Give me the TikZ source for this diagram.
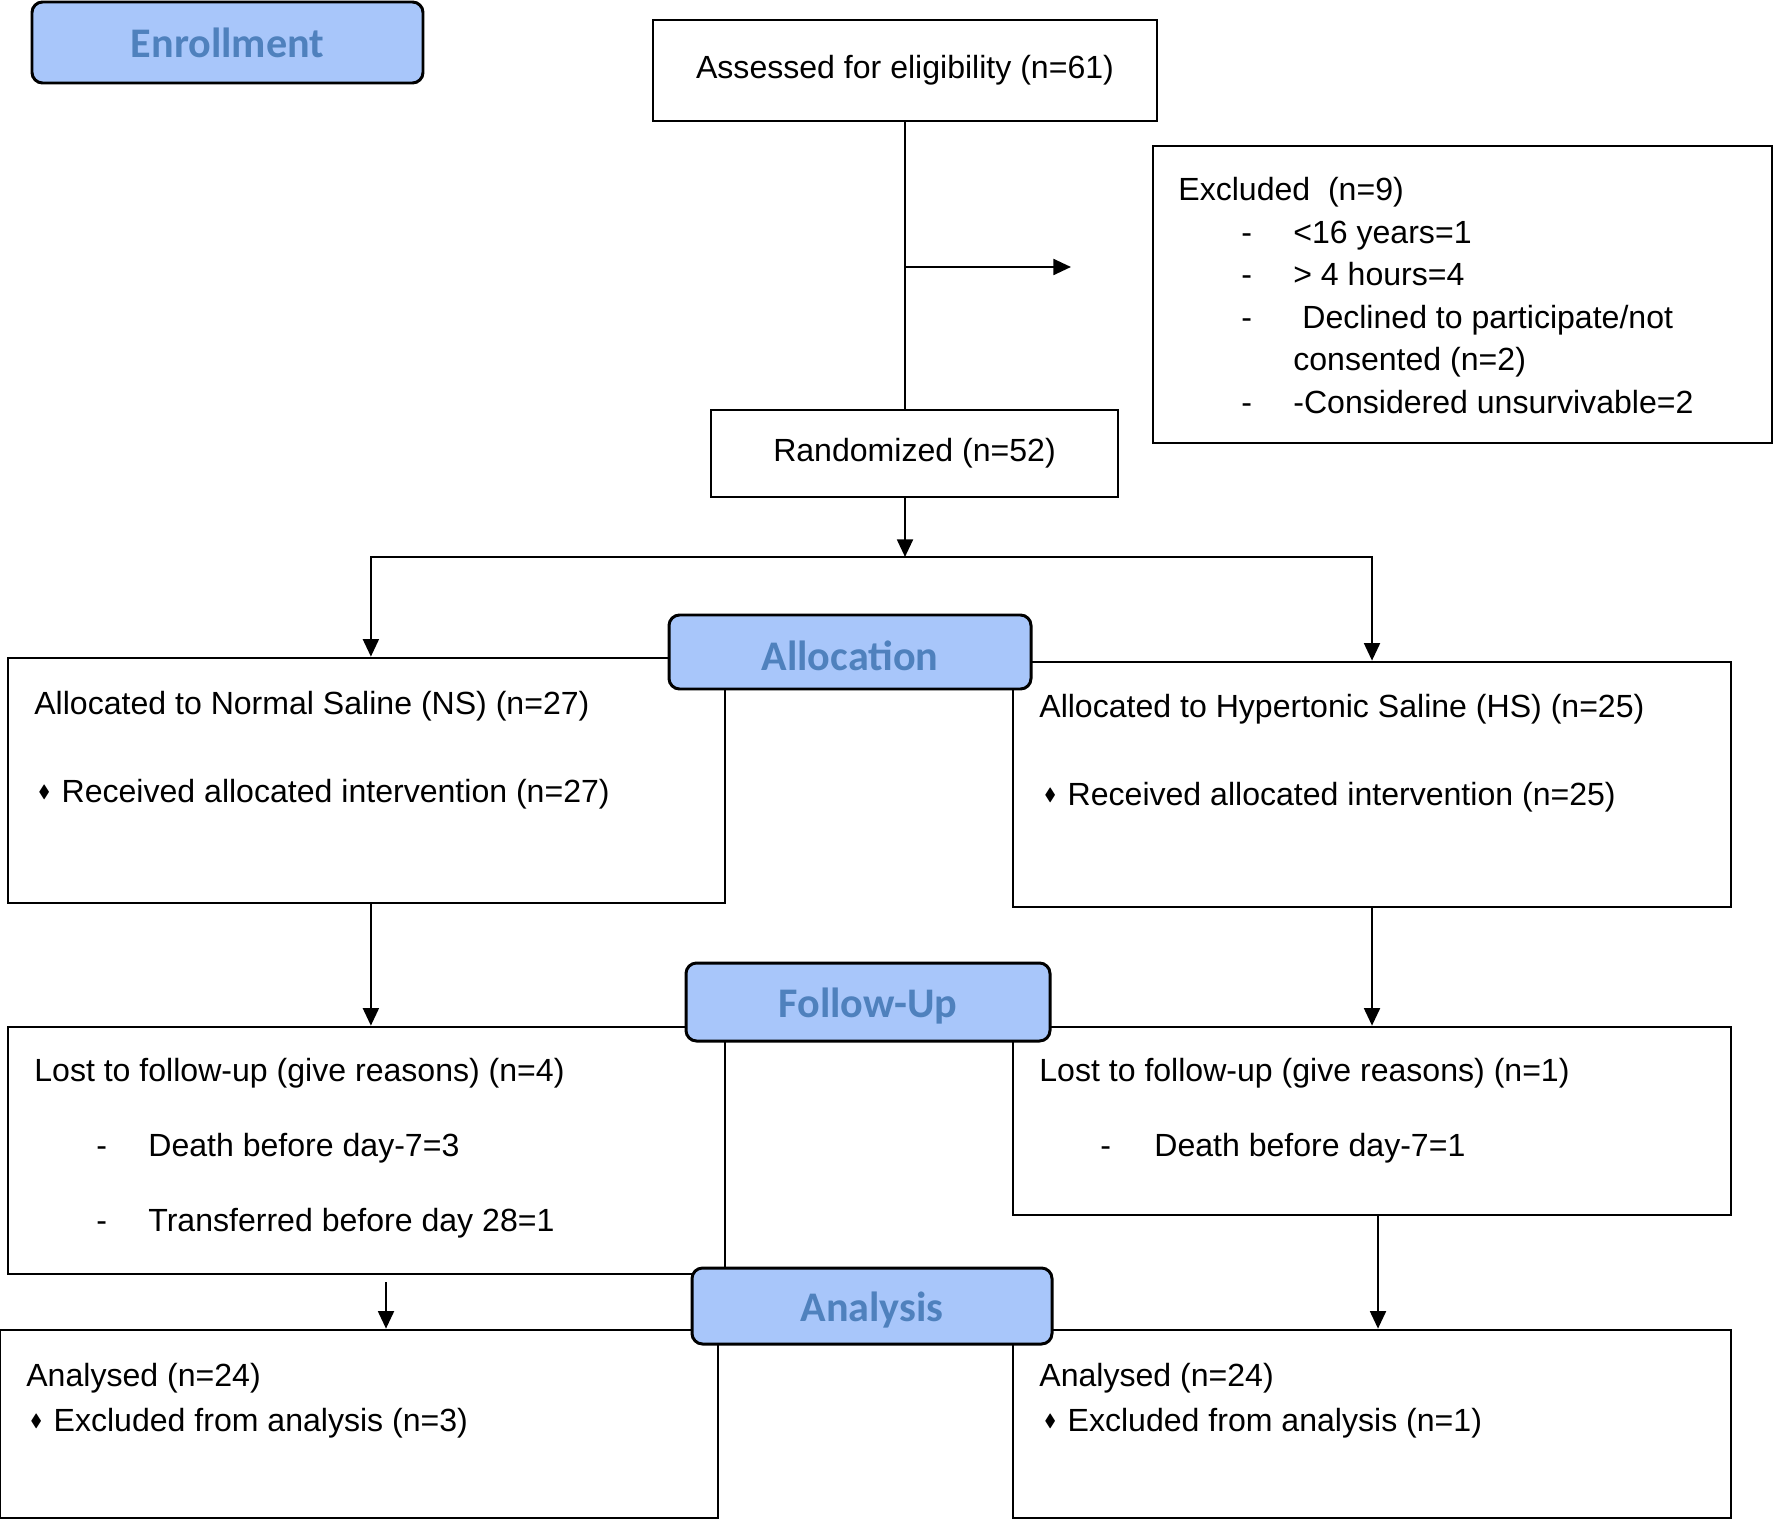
\documentclass[tikz,border=0pt]{standalone}
\usepackage{fontspec}
\setmainfont{Liberation Sans}
\newfontfamily\headfont{Carlito}
\usepackage{amssymb}
\usepackage{graphicx}
\usetikzlibrary{arrows.meta, positioning, fit}

\definecolor{headfill}{RGB}{168,198,250}
\definecolor{headtext}{RGB}{79,129,189}

\newcommand{\dmd}{\raisebox{0.25ex}{\scalebox{0.55}{$\blacklozenge$}}\hspace{1.5pt}}

\tikzset{
  box/.style={draw, line width=1.5pt, inner sep=0pt},
  boxtxt/.style={inner sep=0pt, font=\fontsize{18.25}{22}\selectfont},
  phase/.style={draw, line width=1.7pt, rounded corners=6pt, fill=headfill, inner sep=0pt},
  phasetxt/.style={inner sep=0pt, text=headtext, font=\headfont\bfseries\fontsize{24}{28}\selectfont},
  txt/.style={inner sep=0pt, anchor=base west, font=\fontsize{18.25}{22}\selectfont},
  arr/.style={-{Triangle[length=10pt, width=9pt]}, line width=1.4pt},
  ln/.style={line width=1.4pt}
}

\begin{document}
\begin{tikzpicture}[x=0.02cm, y=-0.02cm, >=latex]
\useasboundingbox (0,0) rectangle (1774,1520);

% --- Enrollment ---
\node[box, fit={(653,20) (1157,121)},
  label={[boxtxt, name=assesstxt]center:Assessed for eligibility (n=61)}] (assess) {};
\node[box, fit={(711,410) (1118,497)},
  label={[boxtxt, name=randtxt]center:Randomized (n=52)}] (rand) {};
\node[box, fit={(1153,146) (1772,443)}] (excl) {};

\node[txt] (exclhead) at (1178,201) {Excluded\ \ (n=9)};
\foreach \yy/\nm in {244/a, 286/b, 329/c, 413/d}
  \node[txt] (excldash\nm) at (1241,\yy) {-};
\node[txt] (exclyoung) at (1293,244) {<16 years=1};
\node[txt] (excllate) at (1293,286) {> 4 hours=4};
\node[txt] (excldecl) at (1302,329) {Declined to participate/not};
\node[txt] (exclcons) at (1293,371) {consented (n=2)};
\node[txt] (exclunsurv) at (1293,413) {-Considered unsurvivable=2};

% --- Allocation ---
\node[box, fit={(8,658) (725,903)}] (nsalloc) {};
\node[box, fit={(1013,662) (1731,907)}] (hsalloc) {};
\node[txt] (nsalloctxt) at (34,714) {Allocated to Normal Saline (NS) (n=27)};
\node[txt] (nsrecv) at (38,802) {\dmd\ Received allocated intervention (n=27)};
\node[txt] (hsalloctxt) at (1039,717) {Allocated to Hypertonic Saline (HS) (n=25)};
\node[txt] (hsrecv) at (1044,805) {\dmd\ Received allocated intervention (n=25)};

% --- Follow-up ---
\node[box, fit={(8,1027) (725,1274)}] (nsfu) {};
\node[box, fit={(1013,1027) (1731,1215)}] (hsfu) {};
\node[txt] (nsfutxt) at (34,1081) {Lost to follow-up (give reasons) (n=4)};
\node[txt] (nsdashA) at (96,1156) {-};
\node[txt] (nsdeath) at (148,1156) {Death before day-7=3};
\node[txt] (nsdashB) at (96,1231) {-};
\node[txt] (nstrans) at (148,1231) {Transferred before day 28=1};
\node[txt] (hsfutxt) at (1039,1081) {Lost to follow-up (give reasons) (n=1)};
\node[txt] (hsdash) at (1100,1156) {-};
\node[txt] (hsdeath) at (1154,1156) {Death before day-7=1};

% --- Analysis ---
\node[box, fit={(0,1330) (718,1518)}] (nsana) {};
\node[box, fit={(1013,1330) (1731,1518)}] (hsana) {};
\node[txt] (nsanatxt) at (26,1386) {Analysed (n=24)};
\node[txt] (nsexcl) at (30,1431) {\dmd\ Excluded from analysis (n=3)};
\node[txt] (hsanatxt) at (1039,1386) {Analysed (n=24)};
\node[txt] (hsexcl) at (1044,1431) {\dmd\ Excluded from analysis (n=1)};

% --- Connectors ---
\coordinate (exclarrow) at (1071,267);
\coordinate (split) at (905,557);
\draw[ln] (assess.south) -- (assess.south |- rand.north);
\draw[arr] (assess.south |- exclarrow) -- (exclarrow);
\draw[arr] (assess.south |- rand.south) -- (split);
\draw[arr] (split) -| ([xshift=2.5pt]nsalloc.north);
\draw[arr] (split) -| (hsalloc.north);
\draw[arr] ([xshift=2.5pt]nsalloc.south) -- ([xshift=2.5pt]nsfu.north);
\draw[arr] (hsalloc.south) -- (hsfu.north);
\coordinate (nsgap) at (386,1282);
\coordinate (hsgap) at (1378,1215);
\draw[arr] (nsgap) -- (nsgap |- nsana.north);
\draw[arr] (hsgap) -- (hsgap |- hsana.north);

% --- Phase labels (on top) ---
\node[phase, fit={(32,2) (423,83)},
  label={[phasetxt, name=enrolltxt]center:Enrollment}] (enroll) {};
\node[phase, fit={(669,615) (1031,689)},
  label={[phasetxt, yshift=-2pt, name=alloctxt]center:Allocation}] (alloc) {};
\node[phase, fit={(686,963) (1050,1041)},
  label={[phasetxt, yshift=-2pt, name=followtxt]center:Follow-Up}] (follow) {};
\node[phase, fit={(692,1268) (1052,1344)},
  label={[phasetxt, yshift=-2.5pt, name=analysistxt]center:Analysis}] (analysis) {};
\end{tikzpicture}
\end{document}
